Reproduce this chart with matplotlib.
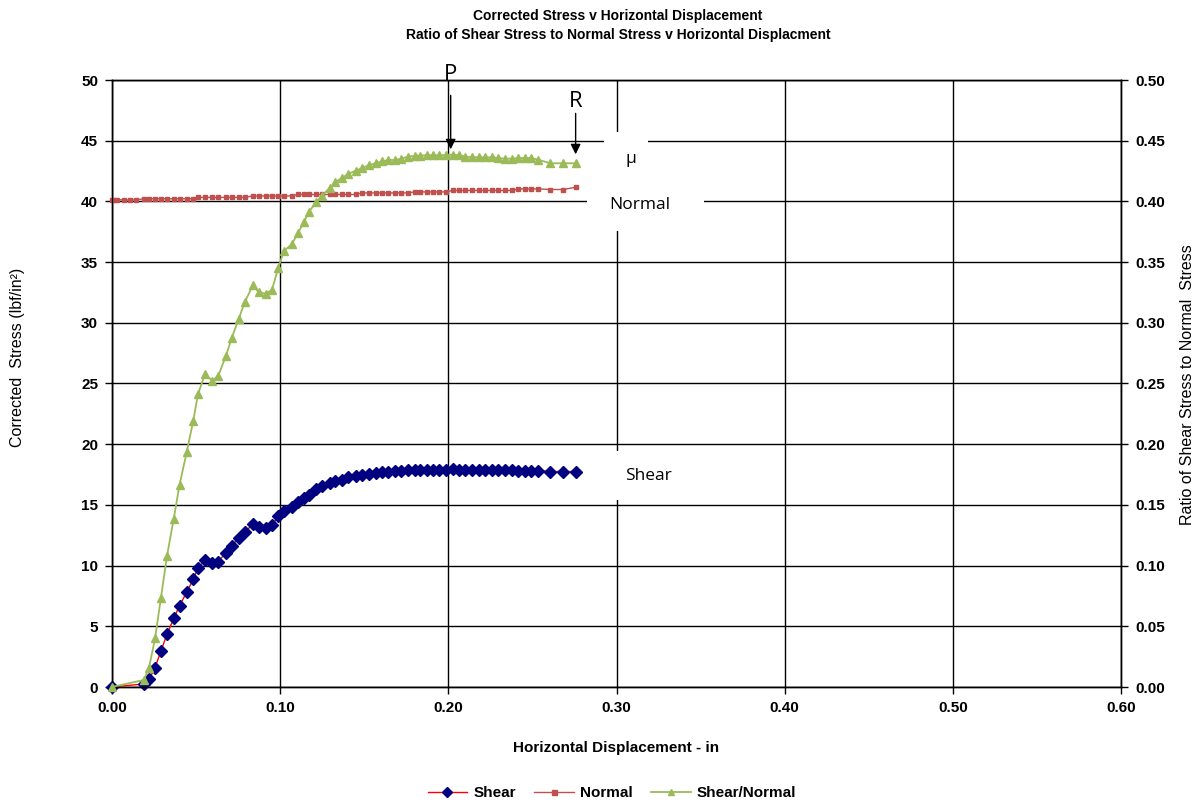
import matplotlib
matplotlib.use("Agg")
import matplotlib.pyplot as plt
from matplotlib.patches import Rectangle
from matplotlib.lines import Line2D

# ---------------- data ----------------
disp = [0.0, 0.019, 0.022, 0.0256, 0.0291, 0.0327, 0.0367, 0.0402, 0.0444, 0.0483,
        0.0511, 0.0553, 0.0596, 0.0632, 0.0677, 0.0713, 0.0753, 0.079, 0.0838, 0.0872,
        0.0913, 0.0951, 0.0988, 0.1022, 0.1068, 0.1107, 0.1141, 0.1171, 0.1214, 0.125,
        0.1294, 0.1329, 0.1368, 0.1404, 0.1452, 0.1487, 0.1527, 0.1567, 0.1606, 0.1642,
        0.1682, 0.1721, 0.1761, 0.18, 0.1834, 0.1873, 0.1907, 0.1947, 0.1986, 0.2026,
        0.2066, 0.2102, 0.2141, 0.2181, 0.222, 0.226, 0.2295, 0.2335, 0.2379, 0.2414,
        0.2454, 0.2494, 0.2533, 0.2607, 0.2682, 0.2761]

shear = [0.0, 0.25, 0.63, 1.59, 2.98, 4.33, 5.65, 6.71, 7.81, 8.87,
         9.80, 10.44, 10.21, 10.33, 11.07, 11.64, 12.27, 12.79, 13.39, 13.15,
         13.12, 13.31, 14.05, 14.46, 14.82, 15.23, 15.55, 15.83, 16.27, 16.54,
         16.79, 16.95, 17.09, 17.26, 17.36, 17.48, 17.56, 17.61, 17.69, 17.69,
         17.77, 17.77, 17.86, 17.86, 17.86, 17.86, 17.86, 17.86, 17.86, 17.97,
         17.89, 17.86, 17.86, 17.86, 17.86, 17.86, 17.86, 17.86, 17.86, 17.83,
         17.83, 17.83, 17.83, 17.75, 17.75, 17.75]

ratio = [0.0, 0.0058, 0.0159, 0.040, 0.0734, 0.1079, 0.1386, 0.1668, 0.1933, 0.2191,
         0.241, 0.2578, 0.2523, 0.2564, 0.2726, 0.2878, 0.303, 0.3172, 0.3309, 0.3251,
         0.324, 0.327, 0.3449, 0.3591, 0.3646, 0.3741, 0.3829, 0.3914, 0.3993, 0.4048,
         0.4111, 0.416, 0.4193, 0.4226, 0.4254, 0.4275, 0.4297, 0.4314, 0.433, 0.4341,
         0.4341, 0.4352, 0.4369, 0.4375, 0.4378, 0.438, 0.438, 0.438, 0.4382, 0.4385,
         0.438, 0.4368, 0.4365, 0.4363, 0.4363, 0.4363, 0.4357, 0.4352, 0.4352, 0.4357,
         0.4357, 0.4357, 0.4344, 0.4314, 0.4314, 0.4314]

normal_disp = [0.0, 0.0012, 0.0032, 0.0071, 0.0107, 0.0141,
               0.019, 0.022, 0.0256, 0.0291, 0.0327, 0.0367, 0.0402, 0.0444, 0.0483,
               0.0511, 0.0553, 0.0596, 0.0632, 0.0677, 0.0713, 0.0753, 0.079, 0.0838, 0.0872,
               0.0913, 0.0951, 0.0988, 0.1022, 0.1068, 0.1107, 0.1141, 0.1171, 0.1214, 0.125,
               0.1294, 0.1329, 0.1368, 0.1404, 0.1452, 0.1487, 0.1527, 0.1567, 0.1606, 0.1642,
               0.1682, 0.1721, 0.1761, 0.18, 0.1834, 0.1873, 0.1907, 0.1947, 0.1986, 0.2026,
               0.2066, 0.2102, 0.2141, 0.2181, 0.222, 0.226, 0.2295, 0.2335, 0.2379, 0.2414,
               0.2454, 0.2494, 0.2533, 0.2607, 0.2682, 0.2761]

normal = [40.15, 40.15, 40.15, 40.12, 40.12, 40.12,
          40.22, 40.22, 40.22, 40.22, 40.22, 40.22, 40.22, 40.22, 40.22,
          40.33, 40.33, 40.33, 40.33, 40.33, 40.33, 40.33, 40.33,
          40.45, 40.45, 40.45, 40.45, 40.45, 40.45, 40.45,
          40.57, 40.57, 40.57, 40.57, 40.57, 40.57, 40.57, 40.57, 40.57, 40.57,
          40.7, 40.7, 40.7, 40.7, 40.7, 40.7, 40.7, 40.7,
          40.78, 40.78, 40.78, 40.78, 40.78, 40.78,
          40.9, 40.9, 40.9, 40.9, 40.9, 40.9, 40.9, 40.9, 40.9, 40.9,
          41.03, 41.03, 41.03, 41.03,
          40.98, 40.98, 41.17]

x_ticks = [0.0, 0.1, 0.2, 0.3, 0.4, 0.5, 0.6]
y_ticks = [0, 5, 10, 15, 20, 25, 30, 35, 40, 45, 50]
y2_ticks = [0.0, 0.05, 0.10, 0.15, 0.20, 0.25, 0.30, 0.35, 0.40, 0.45, 0.50]

title_lines = ["Corrected Stress v Horizontal Displacement",
               "Ratio of Shear Stress to Normal Stress v Horizontal Displacment"]

# ---------------- figure ----------------
plt.rcParams['font.family'] = ['Liberation Sans', 'DejaVu Sans']
fig = plt.figure(figsize=(11.98, 8.05), dpi=100)
L, R, B, T = 112 / 1198, 1121 / 1198, 1 - 687 / 805, 1 - 80 / 805
ax = fig.add_axes([L, B, R - L, T - B])
ax2 = ax.twinx()

ax.set_xlim(0, 0.6)
ax.set_ylim(0, 50)
ax2.set_ylim(0, 0.5)
ax.set_xticks(x_ticks)
ax.set_yticks(y_ticks)
ax2.set_yticks(y2_ticks)
ax.set_xticklabels([f"{v:.2f}" for v in x_ticks], fontsize=11, fontweight='bold')
ax.set_yticklabels([f"{v}" for v in y_ticks], fontsize=11, fontweight='bold')
ax2.set_yticklabels([f"{v:.2f}" for v in y2_ticks], fontsize=11, fontweight='bold')
for a in (ax, ax2):
    a.tick_params(direction='out', length=5, width=1, color='black', pad=5)
    for s in a.spines.values():
        s.set_color('black')
        s.set_linewidth(1.0)
ax.grid(True, color='black', linewidth=1.0)
ax.set_axisbelow(True)

# series
ax.plot(disp, shear, color='#FF0000', lw=1.0, marker='D', ms=6,
        mfc='#000080', mec='#000080', zorder=3, clip_on=False)
ax.plot(normal_disp, normal, color='#C0504D', lw=1.0, marker='s', ms=3.3,
        mfc='#C0504D', mec='#C0504D', zorder=3, clip_on=False)
ax2.plot(disp, ratio, color='#9BBB59', lw=1.3, marker='^', ms=5.2,
         mfc='#9BBB59', mec='#9BBB59', zorder=4, clip_on=False)

# white label boxes
boxes = [(0.2923, 41.25, 0.0262, 4.44), (0.2822, 37.55, 0.0696, 4.52),
         (0.2894, 15.37, 0.0594, 4.10)]
for (bx, by, bw, bh) in boxes:
    ax.add_patch(Rectangle((bx, by), bw, bh, facecolor='white', edgecolor='none',
                           zorder=2.5))
ax.text(0.3084, 43.47, "μ", fontsize=12.5, family=['Open Sans', 'DejaVu Sans'],
        ha='center', va='center', zorder=5)
ax.text(0.3137, 39.69, "Normal", fontsize=12.5, family=['Open Sans', 'DejaVu Sans'],
        ha='center', va='center', zorder=5)
ax.text(0.3191, 17.42, "Shear", fontsize=12.5, family=['Open Sans', 'DejaVu Sans'],
        ha='center', va='center', zorder=5)

# P and R annotations
ax.text(0.2014, 50.45, "P", fontsize=16, family=['Open Sans', 'DejaVu Sans'],
        ha='center', va='center', clip_on=False, zorder=6)
ax.annotate("", xy=(0.2014, 44.29), xytext=(0.2014, 48.73),
            arrowprops=dict(arrowstyle='-|>', color='black', lw=1.0,
                            mutation_scale=15, shrinkA=0, shrinkB=0),
            annotation_clip=False, zorder=6)
ax.text(0.2757, 48.23, "R", fontsize=16, family=['Open Sans', 'DejaVu Sans'],
        ha='center', va='center', clip_on=False, zorder=6)
ax.annotate("", xy=(0.2757, 43.88), xytext=(0.2757, 47.25),
            arrowprops=dict(arrowstyle='-|>', color='black', lw=1.0,
                            mutation_scale=15, shrinkA=0, shrinkB=0),
            annotation_clip=False, zorder=6)

# titles and labels
fig.text(618 / 1198, 1 - 16 / 805, title_lines[0], ha='center', va='center',
         fontsize=10, fontweight='bold')
fig.text(618 / 1198, 1 - 35 / 805, title_lines[1], ha='center', va='center',
         fontsize=10, fontweight='bold')
fig.text(616 / 1198, 1 - 748 / 805, "Horizontal Displacement - in", ha='center',
         va='center', fontsize=11, fontweight='bold')
fig.text(18 / 1198, 1 - 357 / 805, "Corrected  Stress (lbf/in²)", ha='center',
         va='center', rotation=90, fontsize=11.5)
fig.text(1187 / 1198, 1 - 385 / 805, "Ratio of Shear Stress to Normal  Stress",
         ha='center', va='center', rotation=90, fontsize=11.5)

# legend
handles = [Line2D([], [], color='#FF0000', lw=1.0, marker='D', ms=5.5,
                  mfc='#000080', mec='#000080'),
           Line2D([], [], color='#C0504D', lw=1.0, marker='s', ms=3.6,
                  mfc='#C0504D', mec='#C0504D'),
           Line2D([], [], color='#9BBB59', lw=1.3, marker='^', ms=5,
                  mfc='#9BBB59', mec='#9BBB59')]
fig.legend(handles, ["Shear", "Normal", "Shear/Normal"], loc='center',
           bbox_to_anchor=(612 / 1198, 1 - 793 / 805), ncol=3, frameon=False,
           prop={'size': 11, 'weight': 'bold'}, handlelength=2.6,
           columnspacing=1.2, handletextpad=0.4)

fig.savefig("out.png", dpi=100)
